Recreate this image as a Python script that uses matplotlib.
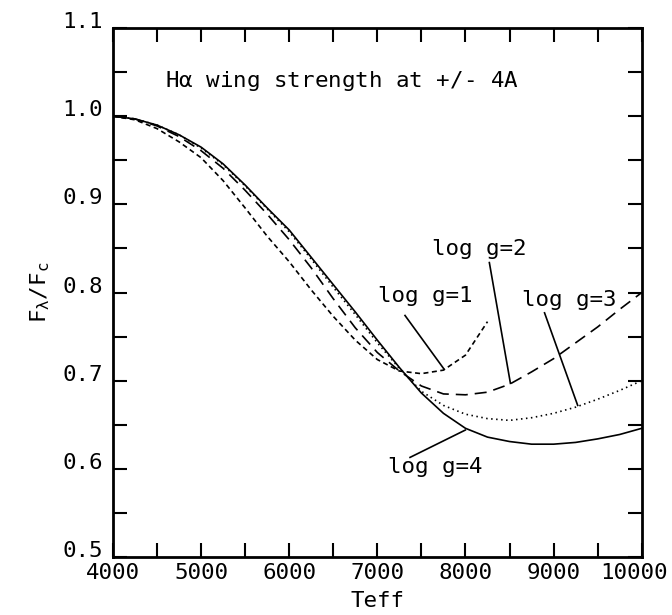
import matplotlib
matplotlib.use('Agg')
import matplotlib.pyplot as plt
import matplotlib.transforms as mtrans
from matplotlib.ticker import MultipleLocator

# Teff grid (K)
teff = [4000, 4250, 4500, 4750, 5000, 5250, 5500, 5750, 6000, 6250, 6500, 6750,
        7000, 7250, 7500, 7750, 8000, 8250, 8500, 8750, 9000, 9250, 9500, 9750, 10000]

# F_lambda/F_c at +/- 4A for each log g
logg4 = [1.000, 0.997, 0.990, 0.979, 0.965, 0.946, 0.922, 0.896, 0.871, 0.840, 0.809, 0.778,
         0.746, 0.715, 0.686, 0.663, 0.646, 0.636, 0.631, 0.628, 0.628, 0.630, 0.634, 0.639, 0.646]
logg3 = [1.000, 0.997, 0.990, 0.979, 0.964, 0.945, 0.921, 0.895, 0.869, 0.838, 0.806, 0.775,
         0.743, 0.714, 0.688, 0.672, 0.662, 0.657, 0.655, 0.658, 0.663, 0.670, 0.679, 0.689, 0.700]
logg2 = [1.000, 0.997, 0.989, 0.977, 0.961, 0.941, 0.916, 0.889, 0.860, 0.828, 0.793, 0.760,
         0.732, 0.711, 0.694, 0.685, 0.684, 0.687, 0.696, 0.710, 0.725, 0.743, 0.761, 0.781, 0.800]
teff1 = teff[:18]
logg1 = [1.000, 0.996, 0.986, 0.971, 0.953, 0.927, 0.896, 0.864, 0.835, 0.803, 0.773, 0.746,
         0.724, 0.711, 0.708, 0.712, 0.729, 0.767]

# label text position and pointer (from, to)
labels = [
    ('log g=1', (7543, 0.796), (7314, 0.774), (7758, 0.713)),
    ('log g=2', (8157, 0.849), (8271, 0.834), (8510, 0.697)),
    ('log g=3', (9180, 0.791), (8897, 0.777), (9273, 0.672)),
    ('log g=4', (7656, 0.602), (7371, 0.613), (7998, 0.644)),
]

plt.rcParams['font.family'] = ['DejaVu Sans Mono', 'DejaVu Sans']
plt.rcParams['mathtext.fontset'] = 'custom'
plt.rcParams['mathtext.rm'] = 'DejaVu Sans Mono'
plt.rcParams['mathtext.it'] = 'DejaVu Sans Mono'

fs = 16.2
fig = plt.figure(figsize=(6.72, 6.15), dpi=100)
ax = fig.add_axes([0.168, 0.0943, 0.787, 0.860])

lw = 1.2
ax.plot(teff, logg4, color='black', lw=lw, linestyle='-')
ax.plot(teff, logg3, color='black', lw=lw, linestyle=(0, (0.9, 2.1)))
ax.plot(teff, logg2, color='black', lw=lw, linestyle=(0, (7.2, 4.2)))
ax.plot(teff1, logg1, color='black', lw=lw, linestyle=(0, (3.0, 2.1)))

for txt, pos, p0, p1 in labels:
    ax.text(pos[0], pos[1], txt, fontsize=fs, ha='center', va='center')
    ax.plot([p0[0], p1[0]], [p0[1], p1[1]], color='black', lw=lw)

ax.text(4590, 1.040, r'H$\alpha$ wing strength at +/- 4A', fontsize=fs, va='center', ha='left')

ax.set_xlim(4000, 10000)
ax.set_ylim(0.5, 1.1)
ax.xaxis.set_minor_locator(MultipleLocator(500))
ax.yaxis.set_minor_locator(MultipleLocator(0.05))
ax.tick_params(which='both', direction='in', top=True, right=True, length=10, width=1.5,
               labelsize=fs)
ax.tick_params(axis='x', pad=4)
ax.tick_params(axis='y', pad=7)
ax.set_xticks([4000, 5000, 6000, 7000, 8000, 9000, 10000])
ax.set_xticklabels(['4000', '5000', '6000', '7000', '8000', '9000', '10000'])
ax.set_yticks([0.5, 0.6, 0.7, 0.8, 0.9, 1.0, 1.1])
ax.set_yticklabels(['0.5', '0.6', '0.7', '0.8', '0.9', '1.0', '1.1'])
for lab in ax.get_yticklabels():
    lab.set_verticalalignment('baseline')
# last x label sits a little left of its tick, as in the original
last = ax.get_xticklabels()[-1]
last.set_transform(last.get_transform() + mtrans.ScaledTranslation(-8 / 100, 0, fig.dpi_scale_trans))
for sp in ax.spines.values():
    sp.set_linewidth(2)

ax.set_xlabel('Teff', fontsize=fs, labelpad=6)
ax.set_ylabel(r'F$_\lambda$/F$_c$', fontsize=fs, labelpad=8)

fig.savefig('out.png', dpi=100)
